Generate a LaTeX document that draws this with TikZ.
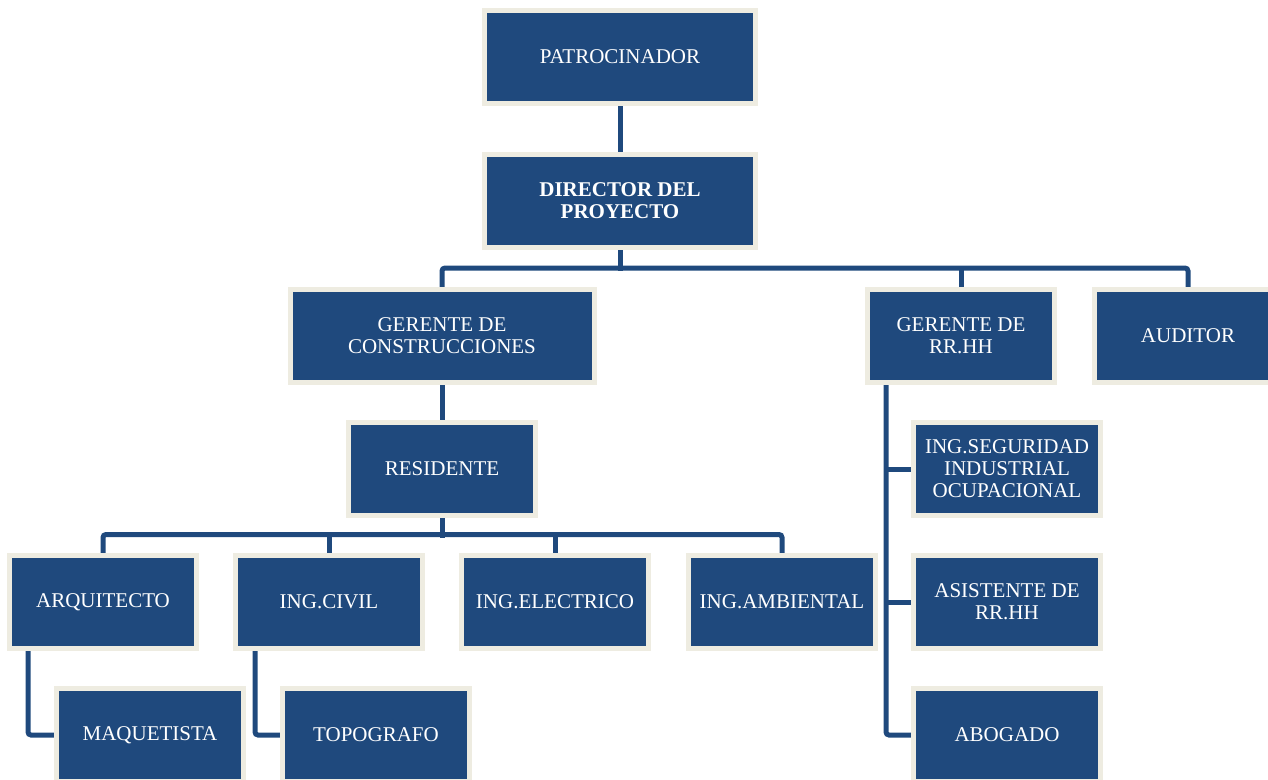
\documentclass[tikz,border=0pt]{standalone}
\usepackage{fontspec}
\setmainfont{Liberation Serif}
\usetikzlibrary{backgrounds}
\definecolor{boxblue}{HTML}{1F497D}
\definecolor{boxcream}{HTML}{EEECE1}
\tikzset{
  cargo/.style={rectangle, fill=boxblue, draw=boxcream, line width=5pt, text=white,
    align=center, minimum width=187pt, minimum height=93pt, inner sep=2pt,
    font=\fontsize{21}{22}\selectfont},
  link/.style={draw=boxblue, line width=5pt, rounded corners=3pt}
}

\begin{document}
\begin{tikzpicture}[x=1pt,y=-1pt]
\useasboundingbox (0,0) rectangle (1268,779);
	% top
	\node[cargo, minimum width=271pt] (patro) at (620,57) {PATROCINADOR};
	\node[cargo, minimum width=271pt, font=\fontsize{21}{22}\selectfont\bfseries] (director) at (620,201) {DIRECTOR DEL\\PROYECTO};
	% second level
	\node[cargo, minimum width=304pt] (gcons) at (442,336) {GERENTE DE\\CONSTRUCCIONES};
	\node[cargo] (grrhh) at (961,336) {GERENTE DE\\RR.HH};
	\node[cargo] (auditor) at (1188,336) {AUDITOR};
	% construcciones
	\node[cargo] (residente) at (442,469) {RESIDENTE};
	\node[cargo] (arq) at (103,602) {ARQUITECTO};
	\node[cargo] (civil) at (329,602) {ING.CIVIL};
	\node[cargo] (electrico) at (555,602) {ING.ELECTRICO};
	\node[cargo] (ambiental) at (782,602) {ING.AMBIENTAL};
	\node[cargo] (maquetista) at (150,735) {MAQUETISTA};
	\node[cargo] (topografo) at (376,735) {TOPOGRAFO};
	% rr.hh
	\node[cargo] (seguridad) at (1007,469) {ING.SEGURIDAD\\INDUSTRIAL\\OCUPACIONAL};
	\node[cargo] (asistente) at (1007,602) {ASISTENTE DE\\RR.HH};
	\node[cargo] (abogado) at (1007,735) {ABOGADO};

	\begin{scope}[on background layer]
	\draw[link] (patro.south) -- (director.north);
	\draw[link] (director.south) -- ++(0,21);
	\draw[link] (gcons.north) -- ++(0,-19) -| (auditor.north);
	\draw[link] (grrhh.north) -- ++(0,-19);
	\draw[link] (gcons.south) -- (residente.north);
	\draw[link] (residente.south) -- ++(0,20);
	\draw[link] (arq.north) -- ++(0,-18.5) -| (ambiental.north);
	\draw[link] (civil.north) -- ++(0,-18.5);
	\draw[link] (electrico.north) -- ++(0,-18.5);
	\draw[link] ([xshift=-75pt]arq.south) |- (maquetista.west);
	\draw[link] ([xshift=-74pt]civil.south) |- (topografo.west);
	\coordinate (rrline) at ([xshift=-75pt]grrhh.south);
	\draw[link] (rrline) |- (abogado.west);
	\draw[link] (seguridad.west) -- (seguridad.west -| rrline);
	\draw[link] (asistente.west) -- (asistente.west -| rrline);
	\end{scope}
\end{tikzpicture}
\end{document}
